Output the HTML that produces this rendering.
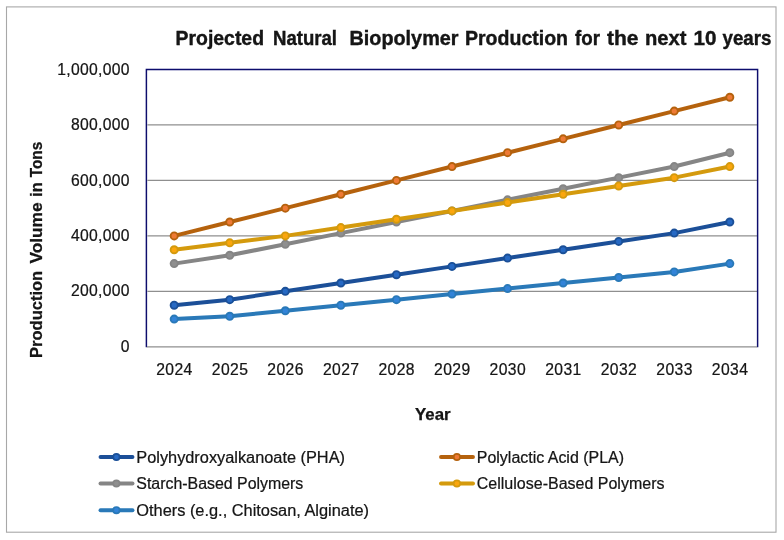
<!DOCTYPE html>
<html><head><meta charset="utf-8"><title>Projected Natural Biopolymer Production</title>
<style>html,body{margin:0;padding:0;background:#fff;}svg{display:block;}text{font-family:"Liberation Sans",sans-serif;fill:#141414;}.r{stroke:#141414;stroke-width:0.22px;}</style></head><body>
<svg width="784" height="540" viewBox="0 0 784 540">
<defs><filter id="b" x="0" y="0" width="784" height="540" filterUnits="userSpaceOnUse"><feGaussianBlur stdDeviation="0.35"/></filter></defs>
<rect x="0" y="0" width="784" height="540" fill="#ffffff"/>
<g filter="url(#b)">
<rect x="6.5" y="6.9" width="769.5" height="525.3" fill="none" stroke="#a8a8a8" stroke-width="1.1"/>
<line x1="147.4" x2="757.6" y1="291.34" y2="291.34" stroke="#8f8f8f" stroke-width="1.25"/>
<line x1="147.4" x2="757.6" y1="235.88" y2="235.88" stroke="#8f8f8f" stroke-width="1.25"/>
<line x1="147.4" x2="757.6" y1="180.42" y2="180.42" stroke="#8f8f8f" stroke-width="1.25"/>
<line x1="147.4" x2="757.6" y1="124.96" y2="124.96" stroke="#8f8f8f" stroke-width="1.25"/>
<path d="M146.4 347.3 L146.4 69.5 L757.6 69.5 L757.6 347.3" fill="none" stroke="#10106c" stroke-width="1.45"/>
<line x1="146.9" x2="757.1" y1="346.8" y2="346.8" stroke="#8f8f8f" stroke-width="1.3"/>
<polyline points="174.18,305.21 229.75,299.66 285.31,291.34 340.87,283.02 396.44,274.70 452.00,266.38 507.56,258.06 563.13,249.75 618.69,241.43 674.25,233.11 729.82,222.02" fill="none" stroke="#1a5098" stroke-width="4.0" stroke-linecap="round" stroke-linejoin="round"/>
<circle cx="174.18" cy="305.21" r="3.55" fill="#2869c4" stroke="#1a5098" stroke-width="1.9"/>
<circle cx="229.75" cy="299.66" r="3.55" fill="#2869c4" stroke="#1a5098" stroke-width="1.9"/>
<circle cx="285.31" cy="291.34" r="3.55" fill="#2869c4" stroke="#1a5098" stroke-width="1.9"/>
<circle cx="340.87" cy="283.02" r="3.55" fill="#2869c4" stroke="#1a5098" stroke-width="1.9"/>
<circle cx="396.44" cy="274.70" r="3.55" fill="#2869c4" stroke="#1a5098" stroke-width="1.9"/>
<circle cx="452.00" cy="266.38" r="3.55" fill="#2869c4" stroke="#1a5098" stroke-width="1.9"/>
<circle cx="507.56" cy="258.06" r="3.55" fill="#2869c4" stroke="#1a5098" stroke-width="1.9"/>
<circle cx="563.13" cy="249.75" r="3.55" fill="#2869c4" stroke="#1a5098" stroke-width="1.9"/>
<circle cx="618.69" cy="241.43" r="3.55" fill="#2869c4" stroke="#1a5098" stroke-width="1.9"/>
<circle cx="674.25" cy="233.11" r="3.55" fill="#2869c4" stroke="#1a5098" stroke-width="1.9"/>
<circle cx="729.82" cy="222.02" r="3.55" fill="#2869c4" stroke="#1a5098" stroke-width="1.9"/>
<polyline points="174.18,235.88 229.75,222.02 285.31,208.15 340.87,194.29 396.44,180.42 452.00,166.56 507.56,152.69 563.13,138.83 618.69,124.96 674.25,111.09 729.82,97.23" fill="none" stroke="#b5620f" stroke-width="4.0" stroke-linecap="round" stroke-linejoin="round"/>
<circle cx="174.18" cy="235.88" r="3.55" fill="#ee7a35" stroke="#b5620f" stroke-width="1.9"/>
<circle cx="229.75" cy="222.02" r="3.55" fill="#ee7a35" stroke="#b5620f" stroke-width="1.9"/>
<circle cx="285.31" cy="208.15" r="3.55" fill="#ee7a35" stroke="#b5620f" stroke-width="1.9"/>
<circle cx="340.87" cy="194.29" r="3.55" fill="#ee7a35" stroke="#b5620f" stroke-width="1.9"/>
<circle cx="396.44" cy="180.42" r="3.55" fill="#ee7a35" stroke="#b5620f" stroke-width="1.9"/>
<circle cx="452.00" cy="166.56" r="3.55" fill="#ee7a35" stroke="#b5620f" stroke-width="1.9"/>
<circle cx="507.56" cy="152.69" r="3.55" fill="#ee7a35" stroke="#b5620f" stroke-width="1.9"/>
<circle cx="563.13" cy="138.83" r="3.55" fill="#ee7a35" stroke="#b5620f" stroke-width="1.9"/>
<circle cx="618.69" cy="124.96" r="3.55" fill="#ee7a35" stroke="#b5620f" stroke-width="1.9"/>
<circle cx="674.25" cy="111.09" r="3.55" fill="#ee7a35" stroke="#b5620f" stroke-width="1.9"/>
<circle cx="729.82" cy="97.23" r="3.55" fill="#ee7a35" stroke="#b5620f" stroke-width="1.9"/>
<polyline points="174.18,263.61 229.75,255.29 285.31,244.20 340.87,233.11 396.44,222.02 452.00,210.92 507.56,199.83 563.13,188.74 618.69,177.65 674.25,166.56 729.82,152.69" fill="none" stroke="#858585" stroke-width="4.0" stroke-linecap="round" stroke-linejoin="round"/>
<circle cx="174.18" cy="263.61" r="3.55" fill="#8f8f8f" stroke="#858585" stroke-width="1.9"/>
<circle cx="229.75" cy="255.29" r="3.55" fill="#8f8f8f" stroke="#858585" stroke-width="1.9"/>
<circle cx="285.31" cy="244.20" r="3.55" fill="#8f8f8f" stroke="#858585" stroke-width="1.9"/>
<circle cx="340.87" cy="233.11" r="3.55" fill="#8f8f8f" stroke="#858585" stroke-width="1.9"/>
<circle cx="396.44" cy="222.02" r="3.55" fill="#8f8f8f" stroke="#858585" stroke-width="1.9"/>
<circle cx="452.00" cy="210.92" r="3.55" fill="#8f8f8f" stroke="#858585" stroke-width="1.9"/>
<circle cx="507.56" cy="199.83" r="3.55" fill="#8f8f8f" stroke="#858585" stroke-width="1.9"/>
<circle cx="563.13" cy="188.74" r="3.55" fill="#8f8f8f" stroke="#858585" stroke-width="1.9"/>
<circle cx="618.69" cy="177.65" r="3.55" fill="#8f8f8f" stroke="#858585" stroke-width="1.9"/>
<circle cx="674.25" cy="166.56" r="3.55" fill="#8f8f8f" stroke="#858585" stroke-width="1.9"/>
<circle cx="729.82" cy="152.69" r="3.55" fill="#8f8f8f" stroke="#858585" stroke-width="1.9"/>
<polyline points="174.18,249.75 229.75,242.81 285.31,235.88 340.87,227.56 396.44,219.24 452.00,210.92 507.56,202.60 563.13,194.29 618.69,185.97 674.25,177.65 729.82,166.56" fill="none" stroke="#d49a0b" stroke-width="4.0" stroke-linecap="round" stroke-linejoin="round"/>
<circle cx="174.18" cy="249.75" r="3.55" fill="#fba60a" stroke="#d49a0b" stroke-width="1.9"/>
<circle cx="229.75" cy="242.81" r="3.55" fill="#fba60a" stroke="#d49a0b" stroke-width="1.9"/>
<circle cx="285.31" cy="235.88" r="3.55" fill="#fba60a" stroke="#d49a0b" stroke-width="1.9"/>
<circle cx="340.87" cy="227.56" r="3.55" fill="#fba60a" stroke="#d49a0b" stroke-width="1.9"/>
<circle cx="396.44" cy="219.24" r="3.55" fill="#fba60a" stroke="#d49a0b" stroke-width="1.9"/>
<circle cx="452.00" cy="210.92" r="3.55" fill="#fba60a" stroke="#d49a0b" stroke-width="1.9"/>
<circle cx="507.56" cy="202.60" r="3.55" fill="#fba60a" stroke="#d49a0b" stroke-width="1.9"/>
<circle cx="563.13" cy="194.29" r="3.55" fill="#fba60a" stroke="#d49a0b" stroke-width="1.9"/>
<circle cx="618.69" cy="185.97" r="3.55" fill="#fba60a" stroke="#d49a0b" stroke-width="1.9"/>
<circle cx="674.25" cy="177.65" r="3.55" fill="#fba60a" stroke="#d49a0b" stroke-width="1.9"/>
<circle cx="729.82" cy="166.56" r="3.55" fill="#fba60a" stroke="#d49a0b" stroke-width="1.9"/>
<polyline points="174.18,319.07 229.75,316.30 285.31,310.75 340.87,305.21 396.44,299.66 452.00,294.11 507.56,288.57 563.13,283.02 618.69,277.48 674.25,271.93 729.82,263.61" fill="none" stroke="#2979b8" stroke-width="4.0" stroke-linecap="round" stroke-linejoin="round"/>
<circle cx="174.18" cy="319.07" r="3.55" fill="#3383d8" stroke="#2979b8" stroke-width="1.9"/>
<circle cx="229.75" cy="316.30" r="3.55" fill="#3383d8" stroke="#2979b8" stroke-width="1.9"/>
<circle cx="285.31" cy="310.75" r="3.55" fill="#3383d8" stroke="#2979b8" stroke-width="1.9"/>
<circle cx="340.87" cy="305.21" r="3.55" fill="#3383d8" stroke="#2979b8" stroke-width="1.9"/>
<circle cx="396.44" cy="299.66" r="3.55" fill="#3383d8" stroke="#2979b8" stroke-width="1.9"/>
<circle cx="452.00" cy="294.11" r="3.55" fill="#3383d8" stroke="#2979b8" stroke-width="1.9"/>
<circle cx="507.56" cy="288.57" r="3.55" fill="#3383d8" stroke="#2979b8" stroke-width="1.9"/>
<circle cx="563.13" cy="283.02" r="3.55" fill="#3383d8" stroke="#2979b8" stroke-width="1.9"/>
<circle cx="618.69" cy="277.48" r="3.55" fill="#3383d8" stroke="#2979b8" stroke-width="1.9"/>
<circle cx="674.25" cy="271.93" r="3.55" fill="#3383d8" stroke="#2979b8" stroke-width="1.9"/>
<circle cx="729.82" cy="263.61" r="3.55" fill="#3383d8" stroke="#2979b8" stroke-width="1.9"/>
<text class="r" x="129.9"  y="351.90" font-size="15.7" letter-spacing="0.32" text-anchor="end">0</text>
<text class="r" x="129.9"  y="296.44" font-size="15.7" letter-spacing="0.32" text-anchor="end">200,000</text>
<text class="r" x="129.9"  y="240.98" font-size="15.7" letter-spacing="0.32" text-anchor="end">400,000</text>
<text class="r" x="129.9"  y="185.52" font-size="15.7" letter-spacing="0.32" text-anchor="end">600,000</text>
<text class="r" x="129.9"  y="130.06" font-size="15.7" letter-spacing="0.32" text-anchor="end">800,000</text>
<text class="r" x="129.9"  y="74.60" font-size="15.7" letter-spacing="0.32" text-anchor="end">1,000,000</text>
<text class="r" x="174.48"  y="374.6" font-size="15.7" letter-spacing="0.4" text-anchor="middle">2024</text>
<text class="r" x="230.05"  y="374.6" font-size="15.7" letter-spacing="0.4" text-anchor="middle">2025</text>
<text class="r" x="285.61"  y="374.6" font-size="15.7" letter-spacing="0.4" text-anchor="middle">2026</text>
<text class="r" x="341.17"  y="374.6" font-size="15.7" letter-spacing="0.4" text-anchor="middle">2027</text>
<text class="r" x="396.74"  y="374.6" font-size="15.7" letter-spacing="0.4" text-anchor="middle">2028</text>
<text class="r" x="452.30"  y="374.6" font-size="15.7" letter-spacing="0.4" text-anchor="middle">2029</text>
<text class="r" x="507.86"  y="374.6" font-size="15.7" letter-spacing="0.4" text-anchor="middle">2030</text>
<text class="r" x="563.43"  y="374.6" font-size="15.7" letter-spacing="0.4" text-anchor="middle">2031</text>
<text class="r" x="618.99"  y="374.6" font-size="15.7" letter-spacing="0.4" text-anchor="middle">2032</text>
<text class="r" x="674.55"  y="374.6" font-size="15.7" letter-spacing="0.4" text-anchor="middle">2033</text>
<text class="r" x="730.12"  y="374.6" font-size="15.7" letter-spacing="0.4" text-anchor="middle">2034</text>
<text x="175.6" y="45.0" font-size="21" font-weight="bold" fill="#0c0c0c" stroke="#0c0c0c" stroke-width="0.4" textLength="88.4" lengthAdjust="spacingAndGlyphs">Projected</text>
<text x="273.0" y="45.0" font-size="21" font-weight="bold" fill="#0c0c0c" stroke="#0c0c0c" stroke-width="0.4" textLength="64.0" lengthAdjust="spacingAndGlyphs">Natural</text>
<text x="349.5" y="45.0" font-size="21" font-weight="bold" fill="#0c0c0c" stroke="#0c0c0c" stroke-width="0.4" textLength="109.0" lengthAdjust="spacingAndGlyphs">Biopolymer</text>
<text x="465" y="45.0" font-size="21" font-weight="bold" fill="#0c0c0c" stroke="#0c0c0c" stroke-width="0.4" textLength="103" lengthAdjust="spacingAndGlyphs">Production</text>
<text x="575" y="45.0" font-size="21" font-weight="bold" fill="#0c0c0c" stroke="#0c0c0c" stroke-width="0.4" textLength="25" lengthAdjust="spacingAndGlyphs">for</text>
<text x="607" y="45.0" font-size="21" font-weight="bold" fill="#0c0c0c" stroke="#0c0c0c" stroke-width="0.4" textLength="31.5" lengthAdjust="spacingAndGlyphs">the</text>
<text x="645" y="45.0" font-size="21" font-weight="bold" fill="#0c0c0c" stroke="#0c0c0c" stroke-width="0.4" textLength="41.5" lengthAdjust="spacingAndGlyphs">next</text>
<text x="693.5" y="45.0" font-size="21" font-weight="bold" fill="#0c0c0c" stroke="#0c0c0c" stroke-width="0.4" textLength="23.0" lengthAdjust="spacingAndGlyphs">10</text>
<text x="722.5" y="45.0" font-size="21" font-weight="bold" fill="#0c0c0c" stroke="#0c0c0c" stroke-width="0.4" textLength="49.0" lengthAdjust="spacingAndGlyphs">years</text>
<text transform="translate(41.8 357) rotate(-90)" x="-1.0" y="0" font-size="16.9" font-weight="bold" fill="#0c0c0c" stroke="#0c0c0c" stroke-width="0.25" textLength="87.2" lengthAdjust="spacingAndGlyphs">Production</text>
<text transform="translate(41.8 357) rotate(-90)" x="93.4" y="0" font-size="16.9" font-weight="bold" fill="#0c0c0c" stroke="#0c0c0c" stroke-width="0.25" textLength="61.2" lengthAdjust="spacingAndGlyphs">Volume</text>
<text transform="translate(41.8 357) rotate(-90)" x="160.2" y="0" font-size="16.9" font-weight="bold" fill="#0c0c0c" stroke="#0c0c0c" stroke-width="0.25" textLength="14.4" lengthAdjust="spacingAndGlyphs">in</text>
<text transform="translate(41.8 357) rotate(-90)" x="179.7" y="0" font-size="16.9" font-weight="bold" fill="#0c0c0c" stroke="#0c0c0c" stroke-width="0.25" textLength="35.5" lengthAdjust="spacingAndGlyphs">Tons</text>
<text x="415.0" y="419.8" font-size="16.9" font-weight="bold" fill="#0c0c0c" stroke="#0c0c0c" stroke-width="0.25" textLength="35.6" lengthAdjust="spacingAndGlyphs">Year</text>
<line x1="100.5" x2="132.5" y1="457.0" y2="457.0" stroke="#1a5098" stroke-width="3.9" stroke-linecap="round"/>
<circle cx="116.4" cy="457.0" r="3.2" fill="#2869c4" stroke="#1a5098" stroke-width="1.7"/>
<text class="r" x="136.3" y="462.60" font-size="16" textLength="208.7" lengthAdjust="spacingAndGlyphs">Polyhydroxyalkanoate (PHA)</text>
<line x1="441.0" x2="473.0" y1="457.0" y2="457.0" stroke="#b5620f" stroke-width="3.9" stroke-linecap="round"/>
<circle cx="456.9" cy="457.0" r="3.2" fill="#ee7a35" stroke="#b5620f" stroke-width="1.7"/>
<text class="r" x="476.8" y="462.60" font-size="16" textLength="147.2" lengthAdjust="spacingAndGlyphs">Polylactic Acid (PLA)</text>
<line x1="100.5" x2="132.5" y1="483.5" y2="483.5" stroke="#858585" stroke-width="3.9" stroke-linecap="round"/>
<circle cx="116.4" cy="483.5" r="3.2" fill="#8f8f8f" stroke="#858585" stroke-width="1.7"/>
<text class="r" x="136.3" y="489.10" font-size="16" textLength="167.0" lengthAdjust="spacingAndGlyphs">Starch-Based Polymers</text>
<line x1="441.0" x2="473.0" y1="483.5" y2="483.5" stroke="#d49a0b" stroke-width="3.9" stroke-linecap="round"/>
<circle cx="456.9" cy="483.5" r="3.2" fill="#fba60a" stroke="#d49a0b" stroke-width="1.7"/>
<text class="r" x="476.8" y="489.10" font-size="16" textLength="187.7" lengthAdjust="spacingAndGlyphs">Cellulose-Based Polymers</text>
<line x1="100.5" x2="132.5" y1="510.2" y2="510.2" stroke="#2979b8" stroke-width="3.9" stroke-linecap="round"/>
<circle cx="116.4" cy="510.2" r="3.2" fill="#3383d8" stroke="#2979b8" stroke-width="1.7"/>
<text class="r" x="136.3" y="515.80" font-size="16" textLength="232.7" lengthAdjust="spacingAndGlyphs">Others (e.g., Chitosan, Alginate)</text>
</g></svg></body></html>
